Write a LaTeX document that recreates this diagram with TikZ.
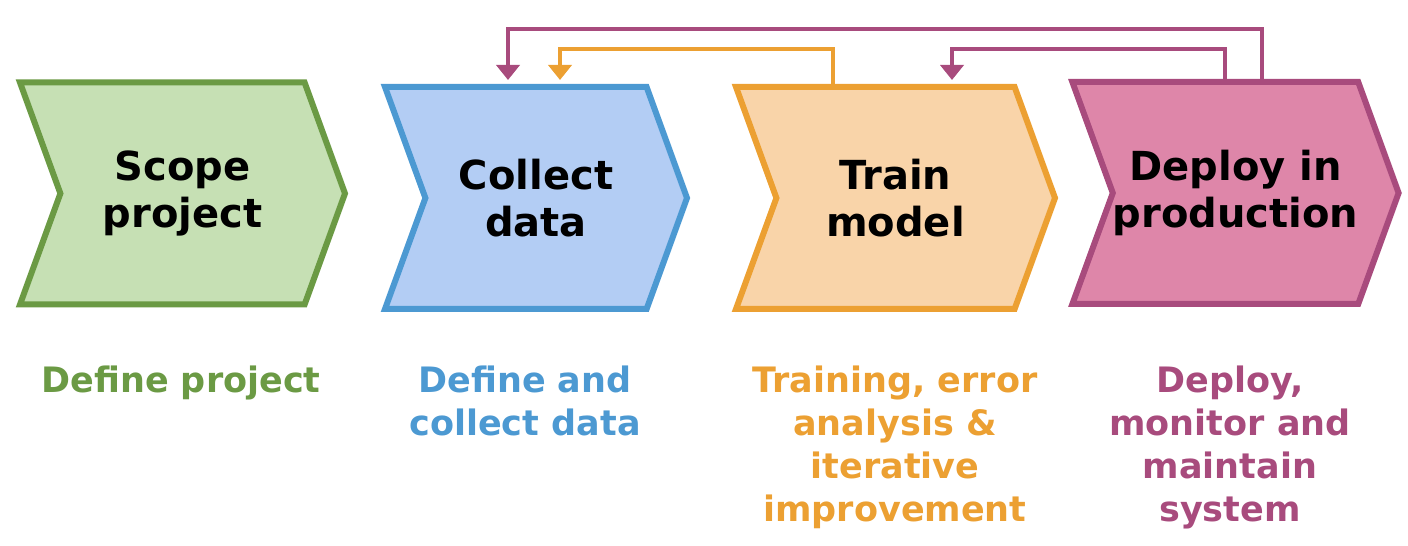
\documentclass[tikz,border=0pt]{standalone}
\usepackage{fontspec}
\setmainfont{DejaVu Sans}
\usetikzlibrary{shapes.symbols,arrows.meta}

\definecolor{scopefill}{HTML}{C6E0B4}
\definecolor{scopeline}{HTML}{6B9A44}
\definecolor{collectfill}{HTML}{B3CDF4}
\definecolor{collectline}{HTML}{4C99D2}
\definecolor{trainfill}{HTML}{F9D4A9}
\definecolor{trainline}{HTML}{ECA032}
\definecolor{deployfill}{HTML}{DE86A9}
\definecolor{deployline}{HTML}{A84B7D}

\begin{document}
\begin{tikzpicture}[x=0.5pt,y=0.5pt,
  stage/.style={signal,signal from=west,signal to=east,signal pointer angle=140,
    draw,line width=3pt,minimum height=111pt,inner sep=0pt,align=center,
    font=\fontsize{20}{23.5}\selectfont\bfseries},
  sublabel/.style={anchor=north,align=center,inner sep=0pt,
    font=\fontsize{17.5}{21.5}\selectfont\bfseries},
  feedback/.style={line width=2pt,-{Triangle[width=11.5pt,length=7.5pt]},shorten >=2pt}]
  \useasboundingbox (0,0) rectangle (1408,546);

  % stages
  \node[stage,fill=scopefill,draw=scopeline,minimum width=162.5pt] (scope) at (182.5,352.5) {Scope\\project};
  \node[stage,fill=collectfill,draw=collectline,minimum width=151pt] (collect) at (536,348) {Collect\\data};
  \node[stage,fill=trainfill,draw=trainline,minimum width=159.5pt] (train) at (895.5,348) {Train\\model};
  \node[stage,fill=deployfill,draw=deployline,minimum width=154.5pt] (deploy) at (1235.5,353) {Deploy in\\production};

  % what each stage means
  \node[sublabel,text=scopeline] (scopetxt) at (181,180) {Define project};
  \node[sublabel,text=collectline] (collecttxt) at (525,180) {Define and\\collect data};
  \node[sublabel,text=trainline] (traintxt) at (895,180) {Training, error\\analysis \&\\iterative\\improvement};
  \node[sublabel,text=deployline] (deploytxt) at (1230,180) {Deploy,\\monitor and\\maintain\\system};

  % feedback loops
  \coordinate (fbouter) at (1262,517);
  \coordinate (fbcollect) at (508,517);
  \coordinate (fbtrain) at (833,497);
  \coordinate (fbtraincol) at (560,497);
  \coordinate (fbinner) at (1225,497);
  \coordinate (fbdeploytr) at (952,497);
  \draw[feedback,deployline] (deploy.north -| fbouter) -- (fbouter) -| (collect.north -| fbcollect);
  \draw[feedback,trainline] (train.north -| fbtrain) -- (fbtrain) -| (collect.north -| fbtraincol);
  \draw[feedback,deployline] (deploy.north -| fbinner) -- (fbinner) -| (train.north -| fbdeploytr);
\end{tikzpicture}
\end{document}
